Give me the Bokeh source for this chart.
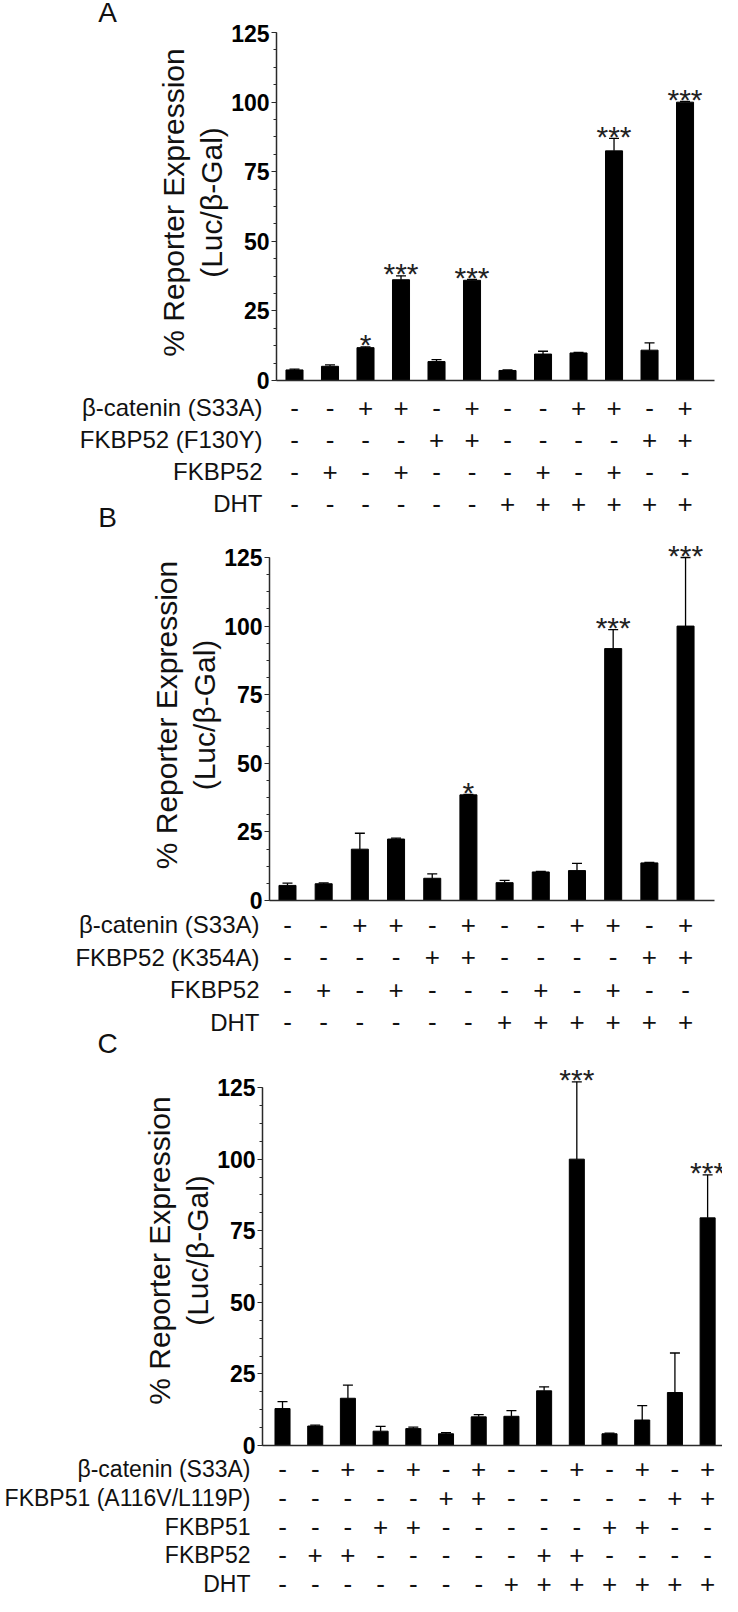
import numpy as np
from bokeh.plotting import figure
from bokeh.models import Range1d, FixedTicker, ColumnDataSource, Whisker, TeeHead
from bokeh.layouts import column
from bokeh.embed import file_html
from bokeh.resources import INLINE
from bokeh.core.properties import value

FONT = "Liberation Sans"

# ---------------- data ----------------
# Panel A
a_vals = [3.8, 5.1, 11.8, 36.2, 6.8, 36.0, 3.6, 9.5, 9.9, 82.5, 10.9, 100.0]
a_errs = [0.3, 0.5, 0.3, 1.4, 0.7, 0.3, 0.2, 1.0, 0.2, 4.5, 2.6, 0.3]
a_stars = ["", "", "*", "***", "", "***", "", "", "", "***", "", "***"]
a_rows = ["β-catenin (S33A)", "FKBP52 (F130Y)", "FKBP52", "DHT"]
a_signs = [
    ["-", "-", "+", "+", "-", "+", "-", "-", "+", "+", "-", "+"],
    ["-", "-", "-", "-", "+", "+", "-", "-", "-", "-", "+", "+"],
    ["-", "+", "-", "+", "-", "-", "-", "+", "-", "+", "-", "-"],
    ["-", "-", "-", "-", "-", "-", "+", "+", "+", "+", "+", "+"],
]

# Panel B
b_vals = [5.5, 6.1, 18.7, 22.4, 8.1, 38.5, 6.5, 10.4, 10.9, 91.8, 13.7, 100.0]
b_errs = [0.8, 0.3, 5.8, 0.3, 1.6, 0.2, 0.8, 0.2, 2.6, 6.9, 0.2, 25.0]
b_stars = ["", "", "", "", "", "*", "", "", "", "***", "", "***"]
b_rows = ["β-catenin (S33A)", "FKBP52 (K354A)", "FKBP52", "DHT"]
b_signs = [
    ["-", "-", "+", "+", "-", "+", "-", "-", "+", "+", "-", "+"],
    ["-", "-", "-", "-", "+", "+", "-", "-", "-", "-", "+", "+"],
    ["-", "+", "-", "+", "-", "-", "-", "+", "-", "+", "-", "-"],
    ["-", "-", "-", "-", "-", "-", "+", "+", "+", "+", "+", "+"],
]

# Panel C
c_vals = [12.9, 6.8, 16.5, 5.0, 5.9, 4.1, 10.0, 10.2, 19.1, 100.0, 4.1, 8.9, 18.5, 79.5]
c_errs = [2.4, 0.3, 4.6, 1.7, 0.5, 0.4, 0.8, 2.0, 1.4, 27.0, 0.2, 5.0, 13.8, 15.0]
c_stars = ["", "", "", "", "", "", "", "", "", "***", "", "", "", "***"]
c_rows = ["β-catenin (S33A)", "FKBP51 (A116V/L119P)", "FKBP51", "FKBP52", "DHT"]
c_signs = [
    ["-", "-", "+", "-", "+", "-", "+", "-", "-", "+", "-", "+", "-", "+"],
    ["-", "-", "-", "-", "-", "+", "+", "-", "-", "-", "-", "-", "+", "+"],
    ["-", "-", "-", "+", "+", "-", "-", "-", "-", "-", "+", "+", "-", "-"],
    ["-", "+", "+", "-", "-", "-", "-", "-", "+", "+", "-", "-", "-", "-"],
    ["-", "-", "-", "-", "-", "-", "-", "+", "+", "+", "+", "+", "+", "+"],
]

Y_TICKS = [0, 25, 50, 75, 100, 125]
Y_LABEL = "% Reporter Expression\n(Luc/β-Gal)"
AXIS_COLOR = "#2a2a2a"
TOTAL_W = 722


def base_fig(**kw):
    f = figure(output_backend="svg", toolbar_location=None, frame_align=False, **kw)
    f.outline_line_color = None
    f.grid.visible = False
    f.background_fill_color = "white"
    f.border_fill_color = "white"
    return f


def chart(vals, errs, stars, L, W, R, x0, x1, bw, frame_h, y_top, bottom_border):
    n = len(vals)
    xs = list(range(1, n + 1))
    upper = [v + e for v, e in zip(vals, errs)]
    src = ColumnDataSource(dict(x=xs, top=vals, lower=vals, upper=upper, stars=stars))
    p = base_fig(frame_width=W, frame_height=frame_h, min_border_left=L, min_border_right=R,
                 min_border_top=0, min_border_bottom=bottom_border,
                 x_range=Range1d(x0, x1), y_range=Range1d(0, y_top))
    p.vbar(x="x", top="top", bottom=0, width=bw, source=src, fill_color="black", line_color="black")
    p.add_layout(Whisker(base="x", upper="upper", lower="lower", source=src, dimension="height",
                         line_color="black", line_width=1.3,
                         upper_head=TeeHead(size=10, line_color="black", line_width=1.3),
                         lower_head=None))
    p.text(x="x", y="upper", text="stars", source=src, text_align="center",
           text_baseline="alphabetic", y_offset=-2, text_color="#222222",
           text_font=value(FONT), text_font_size="30px")

    ya = p.yaxis[0]
    ya.ticker = FixedTicker(ticks=Y_TICKS, minor_ticks=list(np.arange(0, 125.01, 6.25)))
    ya.bounds = (0, 125)
    ya.axis_line_color = AXIS_COLOR
    ya.axis_line_width = 1.5
    ya.major_tick_line_color = AXIS_COLOR
    ya.minor_tick_line_color = AXIS_COLOR
    ya.major_tick_in = 0
    ya.major_tick_out = 5
    ya.minor_tick_in = 0
    ya.minor_tick_out = 3
    ya.major_label_standoff = 2
    ya.major_label_text_font = FONT
    ya.major_label_text_font_style = "bold"
    ya.major_label_text_font_size = "23px"
    ya.major_label_text_color = "black"
    ya.axis_label = Y_LABEL
    ya.axis_label_text_font = FONT
    ya.axis_label_text_font_style = "normal"
    ya.axis_label_text_font_size = "30px"
    ya.axis_label_text_line_height = 1.15
    ya.axis_label_text_color = "#111111"
    ya.axis_label_standoff = 0

    xa = p.xaxis[0]
    xa.ticker = FixedTicker(ticks=[])
    xa.major_label_text_font_size = "0px"
    xa.major_label_standoff = 0
    xa.major_tick_out = 0
    xa.major_tick_in = 0
    xa.minor_tick_out = 0
    xa.minor_tick_in = 0
    xa.axis_line_color = AXIS_COLOR
    xa.axis_line_width = 1.5
    return p


def table(rows, signs, L, W, R, x0, x1, frame_h, lo, hi, row_font, label_gap,
          letter=None, letter_px=None, letter_y=None):
    pxu = W / (x1 - x0)
    tx0 = x0 - L / pxu
    tx1 = x1 + R / pxu
    t = base_fig(frame_width=L + W + R, frame_height=frame_h, min_border_left=0, min_border_right=0,
                 min_border_top=0, min_border_bottom=0,
                 x_range=Range1d(tx0, tx1), y_range=Range1d(lo, hi))
    t.axis.visible = False
    nr = len(rows)
    tx, ty, tt = [], [], []
    for r, row in enumerate(signs):
        for i, s in enumerate(row):
            tx.append(i + 1)
            ty.append(nr - r)
            tt.append(s)
    t.text(x=tx, y=ty, text=tt, text_align="center", text_baseline="middle",
           text_font=value(FONT), text_font_size="26px", text_color="#111111")
    t.text(x=[x0 - label_gap / pxu] * nr, y=[nr - r for r in range(nr)], text=rows,
           text_align="right", text_baseline="middle",
           text_font=value(FONT), text_font_size=row_font, text_color="#111111")
    if letter:
        t.text(x=[tx0 + letter_px / pxu], y=[letter_y], text=[letter], text_align="center",
               text_baseline="middle", text_font=value(FONT), text_font_size="28px",
               text_color="#111111")
    return t


# letter strip for A
sA = base_fig(frame_width=TOTAL_W, frame_height=24, min_border_left=0, min_border_right=0,
              min_border_top=0, min_border_bottom=0,
              x_range=Range1d(0, TOTAL_W), y_range=Range1d(0, 24))
sA.axis.visible = False
sA.text(x=[107], y=[12], text=["A"], text_align="center", text_baseline="middle",
        text_font=value(FONT), text_font_size="28px", text_color="#111111")

# Panel A
pA = chart(a_vals, a_errs, a_stars, L=276, W=438, R=8, x0=0.493, x1=12.83, bw=0.48,
           frame_h=356, y_top=127.9, bottom_border=12)
tA = table(a_rows, a_signs, L=276, W=438, R=8, x0=0.493, x1=12.83,
           frame_h=137, lo=0.188, hi=4.469, row_font="24px", label_gap=14,
           letter="B", letter_px=107, letter_y=0.5625)

# Panel B
pB = chart(b_vals, b_errs, b_stars, L=269, W=445, R=8, x0=0.503, x1=12.80, bw=0.47,
           frame_h=371, y_top=135.2, bottom_border=12)
tB = table(b_rows, b_signs, L=269, W=445, R=8, x0=0.503, x1=12.80,
           frame_h=143, lo=-0.023, hi=4.377, row_font="24px", label_gap=10,
           letter="C", letter_px=107, letter_y=0.346)

# Panel C
pC = chart(c_vals, c_errs, c_stars, L=262, W=460, R=0, x0=0.388, x1=14.455, bw=0.46,
           frame_h=390, y_top=136.2, bottom_border=12)
tC = table(c_rows, c_signs, L=262, W=460, R=0, x0=0.388, x1=14.455,
           frame_h=139, lo=0.544, hi=5.421, row_font="23px", label_gap=12)

layout = column(sA, pA, tA, pB, tB, pC, tC, spacing=0)
open("out.html", "w").write(file_html(layout, INLINE))
